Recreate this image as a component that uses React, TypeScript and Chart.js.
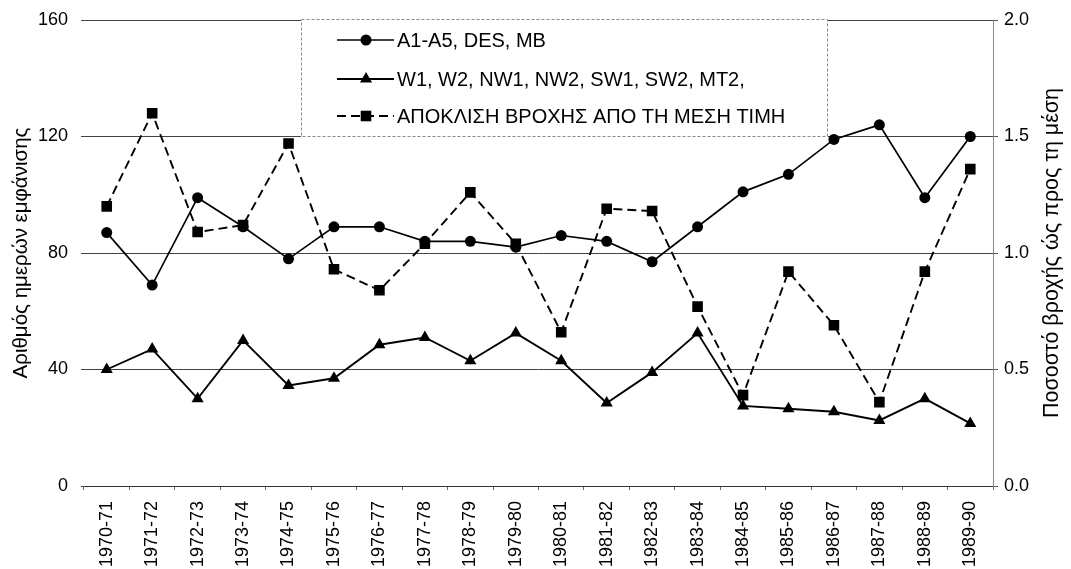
import React, { useEffect, useRef } from 'react';
import { Chart, registerables } from 'chart.js';

Chart.register(...registerables);

const seasons = [
  '1970-71', '1971-72', '1972-73', '1973-74', '1974-75', '1975-76', '1976-77',
  '1977-78', '1978-79', '1979-80', '1980-81', '1981-82', '1982-83', '1983-84',
  '1984-85', '1985-86', '1986-87', '1987-88', '1988-89', '1989-90',
];

const daysA = [87, 69, 99, 89, 78, 89, 89, 84, 84, 82, 86, 84, 77, 89, 101, 107, 119, 124, 99, 120];
const daysW = [40, 47, 30, 50, 34.5, 37, 48.5, 51, 43, 52.5, 43, 28.5, 39, 52.5, 27.5, 26.5, 25.5, 22.5, 30, 21.5];
const rainRatio = [1.2, 1.6, 1.09, 1.12, 1.47, 0.93, 0.84, 1.04, 1.26, 1.04, 0.66, 1.19, 1.18, 0.77, 0.39, 0.92, 0.69, 0.36, 0.92, 1.36];

const labelA = 'A1-A5, DES, MB';
const labelW = 'W1, W2, NW1, NW2, SW1, SW2, MT2,';
const labelRain = 'ΑΠΟΚΛΙΣΗ ΒΡΟΧΗΣ ΑΠΟ ΤΗ ΜΕΣΗ ΤΙΜΗ';
const leftTitle = 'Αριθμός ημερών εμφάνισης';
const rightTitle = 'Ποσοστό βροχής ώς προς τη μέση';

const leftMax = 160;
const leftStep = 40;
const rightMax = 2;
const rightStep = 0.5;

const FONT = "'Liberation Sans', Arial, Helvetica, sans-serif";

function drawMarker(ctx: CanvasRenderingContext2D, style: string, x: number, y: number, r: number) {
  ctx.beginPath();
  if (style === 'circle') {
    ctx.arc(x, y, r, 0, Math.PI * 2);
  } else if (style === 'triangle') {
    ctx.moveTo(x, y - r);
    ctx.lineTo(x + r * Math.sin((2 * Math.PI) / 3), y - r * Math.cos((2 * Math.PI) / 3));
    ctx.lineTo(x + r * Math.sin((4 * Math.PI) / 3), y - r * Math.cos((4 * Math.PI) / 3));
    ctx.closePath();
  } else {
    const s = r * Math.SQRT1_2;
    ctx.rect(x - s, y - s, 2 * s, 2 * s);
  }
  ctx.fill();
}

const boxLegendPlugin = {
  id: 'boxLegend',
  afterDraw(chart: any) {
    const ctx: CanvasRenderingContext2D = chart.ctx;
    const x0 = 301, y0 = 19, x1 = 828, y1 = 137;
    ctx.save();
    ctx.fillStyle = '#ffffff';
    ctx.fillRect(x0, y0, x1 - x0, y1 - y0);
    ctx.strokeStyle = '#8a8a8a';
    ctx.lineWidth = 1;
    ctx.setLineDash([3, 2]);
    ctx.strokeRect(x0 + 0.5, y0 + 0.5, x1 - x0 - 1, y1 - y0 - 1);
    ctx.setLineDash([]);
    const rows = [40, 79, 116];
    chart.data.datasets.forEach((ds: any, i: number) => {
      const y = rows[i];
      ctx.strokeStyle = ds.borderColor;
      ctx.lineWidth = ds.borderWidth;
      ctx.setLineDash(ds.borderDash || []);
      ctx.beginPath();
      ctx.moveTo(337, y);
      ctx.lineTo(394, y);
      ctx.stroke();
      ctx.setLineDash([]);
      ctx.fillStyle = ds.pointBackgroundColor;
      drawMarker(ctx, ds.pointStyle, 366, y, ds.pointRadius);
      ctx.fillStyle = '#000';
      ctx.font = `20px ${FONT}`;
      ctx.textBaseline = 'middle';
      ctx.textAlign = 'left';
      ctx.fillText(ds.label, 397, y + 1);
    });
    ctx.restore();
  },
};

const axisTitlesPlugin = {
  id: 'axisTitles',
  afterDraw(chart: any) {
    const ctx: CanvasRenderingContext2D = chart.ctx;
    const area = chart.chartArea;
    const cy = (area.top + area.bottom) / 2;
    ctx.save();
    ctx.fillStyle = '#000';
    ctx.textAlign = 'center';
    ctx.textBaseline = 'middle';
    const titles: Array<[number, string, number]> = [
      [21, leftTitle, 20.5],
      [1052, rightTitle, 21.5],
    ];
    titles.forEach(([x, t, size]) => {
      ctx.save();
      ctx.font = `${size}px ${FONT}`;
      ctx.translate(x, cy);
      ctx.rotate(-Math.PI / 2);
      ctx.fillText(t, 0, 0);
      ctx.restore();
    });
    ctx.restore();
  },
};

function noPad(scale: any) {
  scale.paddingTop = 0;
  scale.paddingBottom = 0;
  scale.paddingLeft = 0;
  scale.paddingRight = 0;
}

export default function App() {
  const canvasRef = useRef<HTMLCanvasElement | null>(null);

  useEffect(() => {
    const canvas = canvasRef.current;
    if (!canvas) return;
    const chart = new Chart(canvas, {
      type: 'line',
      data: {
        labels: seasons,
        datasets: [
          {
            label: labelA,
            data: daysA,
            yAxisID: 'y',
            borderColor: '#000',
            borderWidth: 1.7,
            pointStyle: 'circle',
            pointRadius: 5.5,
            pointBackgroundColor: '#000',
            pointBorderColor: '#000',
            pointBorderWidth: 0,
            tension: 0,
          },
          {
            label: labelW,
            data: daysW,
            yAxisID: 'y',
            borderColor: '#000',
            borderWidth: 1.9,
            pointStyle: 'triangle',
            pointRadius: 7,
            pointBackgroundColor: '#000',
            pointBorderColor: '#000',
            pointBorderWidth: 0,
            tension: 0,
          },
          {
            label: labelRain,
            data: rainRatio,
            yAxisID: 'y1',
            borderColor: '#000',
            borderWidth: 1.9,
            borderDash: [9, 5],
            pointStyle: 'rect',
            pointRadius: 7.5,
            pointBackgroundColor: '#000',
            pointBorderColor: '#000',
            pointBorderWidth: 0,
            tension: 0,
          },
        ],
      } as any,
      options: {
        animation: false,
        responsive: false,
        devicePixelRatio: 1,
        layout: { padding: { top: 20, left: 0, right: 0, bottom: 0 } },
        plugins: {
          legend: { display: false },
          tooltip: { enabled: false },
          title: { display: false },
        },
        scales: {
          x: {
            offset: true,
            grid: {
              display: true,
              drawOnChartArea: false,
              drawTicks: true,
              tickLength: 4,
              color: '#666',
              offset: true,
            },
            border: { display: true, color: '#333' },
            ticks: {
              minRotation: 90,
              maxRotation: 90,
              autoSkip: false,
              padding: 11,
              color: '#000',
              font: { family: FONT, size: 18 },
            },
            afterFit(scale: any) {
              scale.height = 83;
              noPad(scale);
            },
          },
          y: {
            position: 'left',
            min: 0,
            max: leftMax,
            ticks: {
              stepSize: leftStep,
              padding: 13,
              color: '#000',
              font: { family: FONT, size: 18 },
            },
            grid: {
              color: '#444',
              lineWidth: 1,
              tickLength: 3,
            },
            border: { display: false },
            afterFit(scale: any) {
              scale.width = 84;
              noPad(scale);
            },
          },
          y1: {
            position: 'right',
            min: 0,
            max: rightMax,
            ticks: {
              stepSize: rightStep,
              padding: 6,
              color: '#000',
              font: { family: FONT, size: 18 },
              callback: (v: any) => Number(v).toFixed(1),
            },
            grid: {
              drawOnChartArea: false,
              tickLength: 5,
              color: '#555',
            },
            border: { display: true, color: '#888', dash: [2, 3] },
            afterFit(scale: any) {
              scale.width = 78;
              noPad(scale);
            },
          },
        },
      } as any,
      plugins: [boxLegendPlugin, axisTitlesPlugin],
    });
    return () => chart.destroy();
  }, []);

  return (
    <div style={{ position: 'fixed', left: 0, top: 0, width: 1071, height: 569, background: '#fff' }}>
      <canvas ref={canvasRef} width={1071} height={569} style={{ display: 'block' }} />
    </div>
  );
}
